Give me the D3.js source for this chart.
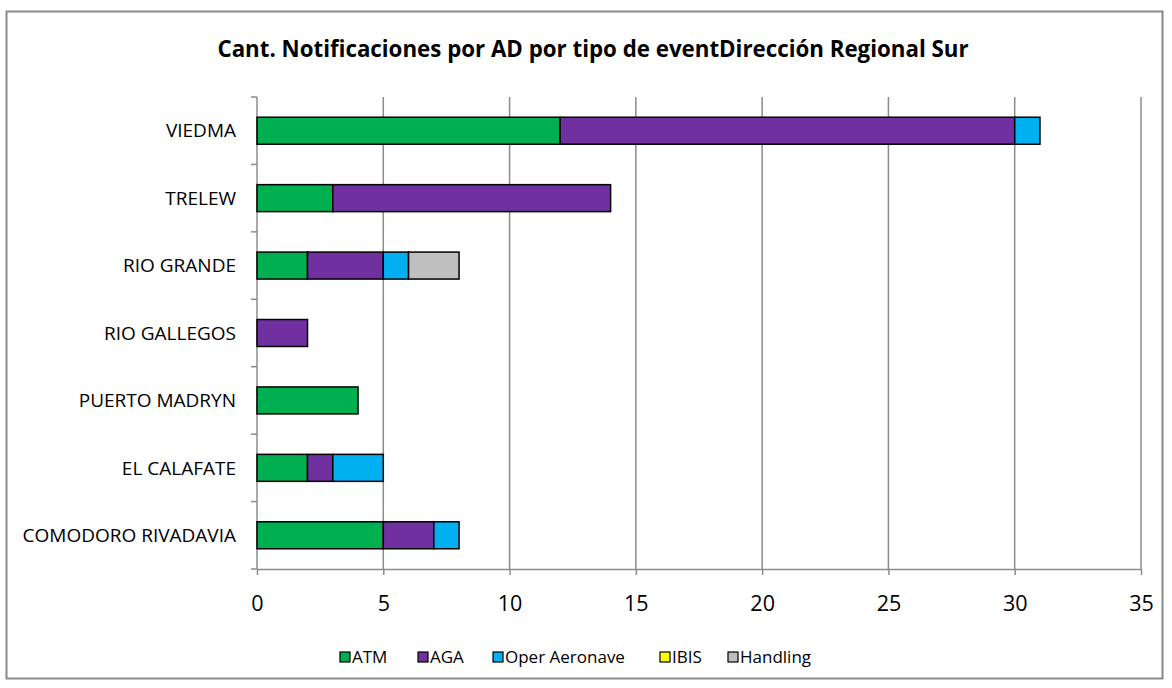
<!DOCTYPE html>
<html>
<head>
<meta charset="utf-8">
<style>
	body { margin: 0; background: #fff; }
	svg { display: block; font-family: "Open Sans", "Liberation Sans", sans-serif; }
</style>
</head>
<body>
<script src="https://cdn.jsdelivr.net/npm/d3@7"></script>
<script>

var width = 1172, height = 688;

// data
var airports = ["VIEDMA", "TRELEW", "RIO GRANDE", "RIO GALLEGOS", "PUERTO MADRYN", "EL CALAFATE", "COMODORO RIVADAVIA"];
var series = ["ATM", "AGA", "Oper Aeronave", "IBIS", "Handling"];
var atm      = [12, 3, 2, 0, 4, 2, 5];
var aga      = [18, 11, 3, 2, 0, 1, 2];
var oper     = [1, 0, 1, 0, 0, 2, 1];
var ibis     = [0, 0, 0, 0, 0, 0, 0];
var handling = [0, 0, 2, 0, 0, 0, 0];
var xTicks = [0, 5, 10, 15, 20, 25, 30, 35];
var colors = ["#00B050", "#7030A0", "#00B0F0", "#FFFF00", "#BFBFBF"];

var rows = airports.map(function(a, i) {
	return { name: a, "ATM": atm[i], "AGA": aga[i], "Oper Aeronave": oper[i], "IBIS": ibis[i], "Handling": handling[i] };
});

var stacked = d3.stack().keys(series)(rows);

var svg = d3.select("body").append("svg")
	.attr("width", width)
	.attr("height", height);

// outer frame
svg.append("rect")
	.attr("x", 6.5).attr("y", 11.5)
	.attr("width", 1156).attr("height", 667)
	.attr("fill", "#fff")
	.attr("stroke", "#898989")
	.attr("stroke-width", 2);

var plot = { left: 257, right: 1141, top: 97, bottom: 569 };

var x = d3.scaleLinear().domain([0, 35]).range([plot.left, plot.right]);
var y = d3.scaleBand().domain(airports).range([plot.top, plot.bottom]).paddingInner(0.6).paddingOuter(0.3);
var yEdge = d3.scaleLinear().domain([0, airports.length]).range([plot.top, plot.bottom]);

// title
svg.append("text")
	.attr("x", 593).attr("y", 57)
	.attr("text-anchor", "middle")
	.attr("font-weight", "bold")
	.attr("font-size", 22.3)
	.attr("fill", "#000")
	.text("Cant. Notificaciones por AD por tipo de eventDirección Regional Sur");

// vertical gridlines
svg.append("g")
	.selectAll("line")
	.data(xTicks.slice(1))
	.join("line")
		.attr("x1", function(d) { return x(d); })
		.attr("x2", function(d) { return x(d); })
		.attr("y1", plot.top)
		.attr("y2", plot.bottom)
		.attr("stroke", "#8c8c8c")
		.attr("stroke-width", 1.5);

// x axis
var xAxis = svg.append("g")
	.attr("transform", "translate(0," + plot.bottom + ")")
	.call(d3.axisBottom(x).tickValues(xTicks).tickSize(6).tickPadding(21).tickSizeOuter(0));
xAxis.select(".domain").attr("stroke", "#8c8c8c").attr("stroke-width", 1.5);
xAxis.selectAll(".tick line").attr("stroke", "#8c8c8c").attr("stroke-width", 1.5);
xAxis.selectAll("text").attr("font-size", 21.5).attr("fill", "#000").attr("font-family", "Open Sans, sans-serif");

// y axis line + ticks at band edges
svg.append("line")
	.attr("x1", plot.left).attr("x2", plot.left)
	.attr("y1", plot.top).attr("y2", plot.bottom)
	.attr("stroke", "#8c8c8c").attr("stroke-width", 1.5);
svg.append("g")
	.selectAll("line")
	.data(d3.range(airports.length + 1))
	.join("line")
		.attr("x1", plot.left - 6).attr("x2", plot.left)
		.attr("y1", function(d) { return yEdge(d); })
		.attr("y2", function(d) { return yEdge(d); })
		.attr("stroke", "#8c8c8c").attr("stroke-width", 1.5);

// category labels
svg.append("g")
	.selectAll("text")
	.data(airports)
	.join("text")
		.attr("x", plot.left - 21)
		.attr("y", function(d) { return y(d) + y.bandwidth() / 2; })
		.attr("dy", "0.35em")
		.attr("text-anchor", "end")
		.attr("font-size", 19)
		.attr("fill", "#000")
		.text(function(d) { return d; });

// bars
svg.append("g")
	.selectAll("g")
	.data(stacked)
	.join("g")
		.attr("fill", function(d, i) { return colors[i]; })
	.selectAll("rect")
	.data(function(d) { return d.filter(function(s) { return s[1] > s[0]; }); })
	.join("rect")
		.attr("x", function(d) { return x(d[0]); })
		.attr("y", function(d) { return y(d.data.name); })
		.attr("width", function(d) { return x(d[1]) - x(d[0]); })
		.attr("height", y.bandwidth())
		.attr("stroke", "#000")
		.attr("stroke-width", 1.5);

// legend
var legendX = [340, 418, 493, 660, 728];
var legend = svg.append("g")
	.selectAll("g")
	.data(series)
	.join("g")
		.attr("transform", function(d, i) { return "translate(" + legendX[i] + ",652)"; });
legend.append("rect")
	.attr("width", 10).attr("height", 10)
	.attr("fill", function(d, i) { return colors[i]; })
	.attr("stroke", "#000").attr("stroke-width", 1.2);
legend.append("text")
	.attr("x", 12).attr("y", 5)
	.attr("dy", "0.35em")
	.attr("font-size", 17)
	.attr("fill", "#000")
	.text(function(d) { return d; });

</script>
</body>
</html>
